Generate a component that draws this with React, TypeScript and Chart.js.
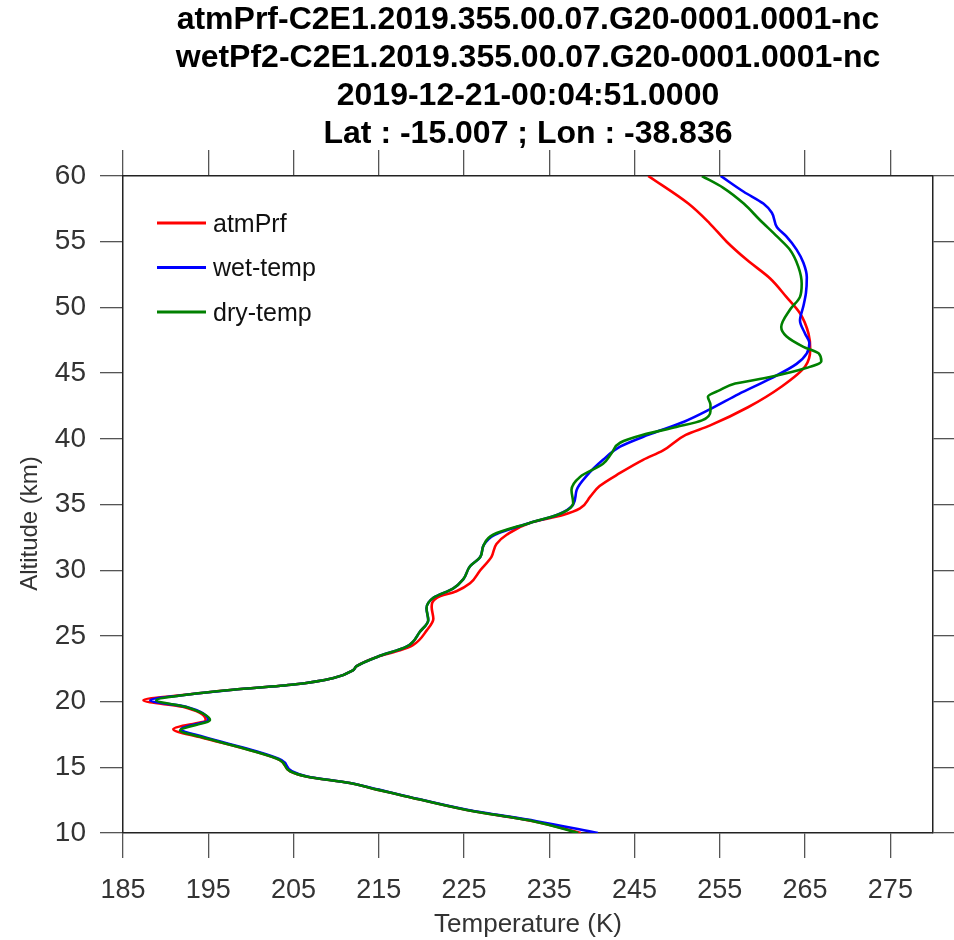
import React, { useEffect, useRef } from "react";
import { Chart, registerables } from "chart.js";

Chart.register(...registerables);

const titleLines = [
  "atmPrf-C2E1.2019.355.00.07.G20-0001.0001-nc",
  "wetPf2-C2E1.2019.355.00.07.G20-0001.0001-nc",
  "2019-12-21-00:04:51.0000",
  "Lat : -15.007 ; Lon : -38.836",
];

const xTicks = [185, 195, 205, 215, 225, 235, 245, 255, 265, 275];
const yTicks = [10, 15, 20, 25, 30, 35, 40, 45, 50, 55, 60];
const yAxisTitle = "Altitude (km)";
const xAxisTitle = "Temperature (K)";

const seriesNames = ["atmPrf", "wet-temp", "dry-temp"];
const seriesColors = ["#ff0000", "#0000ff", "#008000"];

// atmPrf (red)
const altRed = [
  10.0, 10.9, 11.75, 12.9, 13.3, 13.8, 14.3, 14.7, 15.55, 16.3, 17.3, 17.9, 18.6, 19.6, 20.1, 20.5,
  20.9, 21.3, 21.8, 22.4, 22.7, 23.4, 23.9, 24.3, 25.4, 26.3, 27.2, 27.9, 28.4, 29.0, 30.0, 31.0,
  32.0, 32.7, 33.6, 34.2, 34.7, 35.6, 36.4, 37.4, 38.4, 39.1, 40.3, 41.0, 42.4, 44.0, 45.5, 46.8,
  48.0, 49.55, 50.8, 52.2, 53.6, 55.0, 56.4, 57.9, 60.0,
];
const tempRed = [
  238.7, 233.1, 225.3, 217.5, 214.8, 211.6, 206.5, 204.6, 203.4, 199.9, 194.0, 190.9, 194.7, 192.0, 187.4, 192.0,
  197.9, 205.0, 209.7, 212.0, 212.4, 214.8, 217.5, 219.0, 220.6, 221.4, 221.2, 221.8, 224.1, 225.7, 226.9, 228.2,
  228.8, 230.0, 232.7, 236.6, 238.6, 239.8, 240.9, 243.3, 246.0, 248.3, 251.0, 253.8, 258.3, 262.3, 265.0, 265.6,
  265.4, 264.4, 262.8, 260.9, 258.2, 255.8, 253.8, 251.3, 246.6,
];

// wet-temp (blue)
const altBlue = [
  10.0, 10.9, 11.75, 12.9, 13.3, 13.8, 14.3, 14.7, 15.55, 16.3, 17.3, 17.9, 18.6, 19.6, 20.1, 20.5,
  20.9, 21.3, 21.8, 22.4, 22.7, 23.4, 24.2, 25.3, 26.2, 27.1, 27.9, 28.6, 29.3, 30.3, 31.0, 31.9,
  32.7, 33.6, 34.2, 35.0, 36.1, 37.2, 38.4, 39.4, 40.3, 41.3, 42.3, 43.4, 44.6, 45.7, 46.5, 47.3,
  48.0, 49.0, 50.1, 51.1, 52.3, 53.4, 54.4, 55.4, 56.1, 57.2, 57.9, 58.8, 60.0,
];
const tempBlue = [
  240.7, 233.5, 225.5, 217.6, 215.0, 211.6, 206.6, 204.8, 203.6, 200.2, 194.5, 191.8, 195.0, 192.4, 188.2, 192.2,
  197.9, 205.0, 209.7, 212.0, 212.4, 214.8, 218.3, 219.8, 220.8, 220.6, 221.4, 223.7, 224.9, 225.7, 226.9, 227.3,
  228.6, 232.7, 235.9, 237.8, 238.2, 239.4, 241.3, 243.3, 246.6, 250.8, 254.0, 257.2, 261.0, 264.0, 265.2, 265.5,
  265.0, 264.4, 264.8, 265.1, 265.2, 264.8, 264.0, 262.8, 261.7, 261.1, 260.1, 257.8, 255.1,
];

// dry-temp (green)
const altGreen = [
  10.0, 10.9, 11.75, 12.9, 13.3, 13.8, 14.3, 14.7, 15.55, 16.3, 17.3, 17.8, 18.6, 19.6, 20.1, 20.5,
  20.9, 21.3, 21.8, 22.4, 22.7, 23.4, 24.2, 25.3, 26.2, 27.1, 27.9, 28.6, 29.3, 30.3, 31.0, 31.9,
  32.7, 33.6, 34.3, 35.1, 36.1, 37.1, 38.1, 38.9, 39.7, 40.3, 40.9, 41.4, 42.1, 42.6, 43.2, 43.7,
  44.2, 44.7, 45.4, 45.9, 46.5, 47.0, 47.8, 48.5, 49.8, 50.8, 51.8, 53.1, 54.4, 55.4, 56.65, 57.9,
  59.1, 60.0,
];
const tempGreen = [
  238.4, 233.1, 225.3, 217.5, 214.8, 211.6, 206.5, 204.6, 203.4, 199.9, 194.2, 191.7, 195.2, 192.3, 188.9, 192.2,
  197.9, 205.0, 209.7, 212.0, 212.4, 214.8, 218.3, 219.8, 220.8, 220.6, 221.4, 223.7, 224.9, 225.7, 226.9, 227.3,
  228.4, 232.7, 236.3, 237.8, 237.6, 238.6, 241.3, 242.3, 243.3, 246.0, 249.9, 252.9, 253.9, 253.9, 253.6, 255.0,
  256.8, 260.9, 265.2, 266.9, 266.6, 264.8, 262.8, 262.2, 263.2, 264.4, 264.6, 264.2, 263.2, 261.7, 259.7, 257.8,
  255.4, 252.9,
];

const FONT = "'Liberation Sans', Arial, Helvetica, sans-serif";

const overlayPlugin = {
  id: "overlay",
  afterDraw(chart: any) {
    const { ctx, chartArea } = chart;
    ctx.save();
    // legend inside the plot area
    const x0 = chartArea.left + 34;
    const x1 = chartArea.left + 83;
    const yStart = chartArea.top + 47;
    const gap = 44.5;
    ctx.font = `25px ${FONT}`;
    ctx.textBaseline = "middle";
    ctx.textAlign = "left";
    seriesNames.forEach((name, i) => {
      const y = yStart + i * gap;
      ctx.strokeStyle = seriesColors[i];
      ctx.lineWidth = 3;
      ctx.beginPath();
      ctx.moveTo(x0, y);
      ctx.lineTo(x1, y);
      ctx.stroke();
      ctx.fillStyle = "#111";
      ctx.fillText(name, x1 + 7, y + 2);
    });
    // y axis title
    ctx.translate(30, chartArea.top + (chartArea.bottom - chartArea.top) / 2 + 19);
    ctx.rotate(-Math.PI / 2);
    ctx.textAlign = "center";
    ctx.textBaseline = "middle";
    ctx.fillStyle = "#333";
    ctx.font = `24px ${FONT}`;
    ctx.fillText(yAxisTitle, 0, 0);
    ctx.restore();
  },
};

export default function App() {
  const ref = useRef<HTMLCanvasElement | null>(null);

  useEffect(() => {
    if (!ref.current) return;
    const mk = (alts: number[], temps: number[]) => alts.map((a, i) => ({ x: temps[i], y: a }));
    const setX = (s: any) => {
      s.ticks = xTicks.map((v) => ({ value: v }));
    };
    const setY = (s: any) => {
      s.ticks = yTicks.map((v) => ({ value: v }));
    };
    const gridBase = { drawOnChartArea: false, drawTicks: true, color: "#555", lineWidth: 1.3 };
    const border = { display: true, color: "#222", width: 1.5 };

    const chart = new Chart(ref.current, {
      type: "line",
      data: {
        datasets: [
          { label: seriesNames[0], data: mk(altRed, tempRed), borderColor: seriesColors[0], order: 3 },
          { label: seriesNames[1], data: mk(altBlue, tempBlue), borderColor: seriesColors[1], order: 2 },
          { label: seriesNames[2], data: mk(altGreen, tempGreen), borderColor: seriesColors[2], order: 1 },
        ],
      },
      options: {
        responsive: false,
        animation: false,
        devicePixelRatio: 1,
        indexAxis: "y",
        layout: { padding: 0 },
        elements: {
          point: { radius: 0 },
          line: { borderWidth: 2.6, cubicInterpolationMode: "monotone", fill: false },
        },
        plugins: {
          legend: { display: false },
          tooltip: { enabled: false },
          title: {
            display: true,
            text: titleLines,
            color: "#000",
            fullSize: false,
            font: { family: FONT, size: 32, weight: "bold", lineHeight: "38px" },
            padding: { top: 1, bottom: 0 },
          },
        },
        scales: {
          x: {
            type: "linear",
            axis: "x",
            position: "bottom",
            min: 185,
            max: 280,
            afterBuildTicks: setX,
            afterFit: (s: any) => {
              s.height = 107;
            },
            ticks: { font: { family: FONT, size: 27 }, color: "#333", padding: 16, maxRotation: 0, autoSkip: false },
            grid: { ...gridBase, tickLength: 25 },
            border,
            title: {
              display: true,
              text: xAxisTitle,
              color: "#333",
              font: { family: FONT, size: 26 },
              padding: { top: 0, bottom: 0 },
            },
          },
          xTop: {
            type: "linear",
            axis: "x",
            position: "top",
            min: 185,
            max: 280,
            afterBuildTicks: setX,
            afterFit: (s: any) => {
              s.height = 23;
            },
            ticks: { display: false },
            grid: { ...gridBase, tickLength: 26 },
            border,
          },
          y: {
            type: "linear",
            axis: "y",
            position: "left",
            min: 10,
            max: 60,
            afterBuildTicks: setY,
            afterFit: (s: any) => {
              s.width = 123;
            },
            ticks: { font: { family: FONT, size: 28 }, color: "#333", padding: 14, autoSkip: false },
            grid: { ...gridBase, tickLength: 23 },
            border,
          },
          yRight: {
            type: "linear",
            axis: "y",
            position: "right",
            min: 10,
            max: 60,
            afterBuildTicks: setY,
            afterFit: (s: any) => {
              s.width = 21;
            },
            ticks: { display: false },
            grid: { ...gridBase, tickLength: 21 },
            border,
          },
        },
      } as any,
      plugins: [overlayPlugin],
    });
    return () => chart.destroy();
  }, []);

  return (
    <div style={{ position: "absolute", left: 0, top: 0, width: 954, height: 940, background: "#fff" }}>
      <canvas ref={ref} width={954} height={940} style={{ display: "block", width: 954, height: 940 }} />
    </div>
  );
}
